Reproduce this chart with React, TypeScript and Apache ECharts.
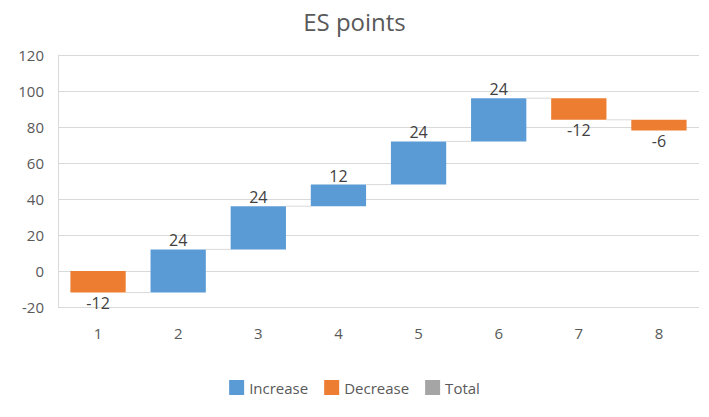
import React, { useEffect, useRef } from "react";
import * as echarts from "echarts";

const categories = ["1", "2", "3", "4", "5", "6", "7", "8"];
const deltas = [-12, 24, 24, 12, 24, 24, -12, -6];
const yTicks = { min: -20, max: 120, interval: 20 };
const title = "ES points";

const FONT = "'Open Sans', sans-serif";
const BLUE = "#5B9BD5";
const ORANGE = "#ED7D31";
const GRAY = "#A5A5A5";

export default function App() {
  const ref = useRef<HTMLDivElement>(null);
  useEffect(() => {
    if (!ref.current) return;
    const chart = echarts.init(ref.current, undefined, { renderer: "svg" });
    const inc: any[] = [];
    const dec: any[] = [];
    let run = 0;
    deltas.forEach((d, i) => {
      const start = run;
      run += d;
      (d >= 0 ? inc : dec).push([i, start, run, d]);
    });
    const n = categories.length;
    const renderItem = (color: string) => (params: any, api: any) => {
      const idx = api.value(0);
      const start = api.value(1);
      const end = api.value(2);
      const d = api.value(3);
      const p1 = api.coord([idx, start]);
      const p2 = api.coord([idx, end]);
      const band = api.size([1, 0])[0];
      const w = band * 0.69;
      const top = Math.min(p1[1], p2[1]);
      const bottom = Math.max(p1[1], p2[1]);
      const children: any[] = [
        {
          type: "rect",
          shape: { x: p1[0] - w / 2, y: top, width: w, height: bottom - top },
          style: { fill: color },
        },
        {
          type: "text",
          x: p1[0],
          y: d >= 0 ? top - 1 : bottom + 2,
          style: {
            text: String(d),
            fill: "#404040",
            font: `16px ${FONT}`,
            align: "center",
            verticalAlign: d >= 0 ? "bottom" : "top",
          },
        },
      ];
      if (idx < n - 1) {
        children.push({
          type: "line",
          shape: { x1: p1[0] + w / 2, y1: p2[1], x2: p1[0] + band - w / 2, y2: p2[1] },
          style: { stroke: "#D9D9D9", lineWidth: 1 },
        });
      }
      return { type: "group", children };
    };
    chart.setOption({
      animation: false,
      title: {
        text: title,
        left: "center",
        top: 4,
        textStyle: { fontFamily: FONT, fontSize: 24, fontWeight: "normal", color: "#595959" },
      },
      grid: { left: 58, right: 10, top: 55, bottom: 110 },
      legend: {
        bottom: 17,
        left: "center",
        itemWidth: 15,
        itemHeight: 15,
        itemGap: 16,
        icon: "rect",
        textStyle: { fontFamily: FONT, fontSize: 15, color: "#595959" },
        data: ["Increase", "Decrease", "Total"],
      },
      xAxis: {
        type: "category",
        data: categories,
        axisLine: { show: false },
        axisTick: { show: false },
        axisLabel: { fontFamily: FONT, fontSize: 15, color: "#595959", margin: 18 },
      },
      yAxis: {
        type: "value",
        min: yTicks.min,
        max: yTicks.max,
        interval: yTicks.interval,
        axisLine: { show: true, lineStyle: { color: "#D9D9D9" } },
        axisTick: { show: false },
        axisLabel: { fontFamily: FONT, fontSize: 15, color: "#595959", margin: 14 },
        splitLine: { lineStyle: { color: "#D9D9D9" } },
      },
      series: [
        {
          name: "Increase",
          type: "custom",
          itemStyle: { color: BLUE },
          renderItem: renderItem(BLUE),
          encode: { x: 0, y: [1, 2] },
          data: inc,
        },
        {
          name: "Decrease",
          type: "custom",
          itemStyle: { color: ORANGE },
          renderItem: renderItem(ORANGE),
          encode: { x: 0, y: [1, 2] },
          data: dec,
        },
        {
          name: "Total",
          type: "custom",
          itemStyle: { color: GRAY },
          renderItem: renderItem(GRAY),
          encode: { x: 0, y: [1, 2] },
          data: [],
        },
      ],
    });
    return () => chart.dispose();
  }, []);
  return <div ref={ref} style={{ width: 709, height: 417, position: "absolute", left: 0, top: 0 }} />;
}
